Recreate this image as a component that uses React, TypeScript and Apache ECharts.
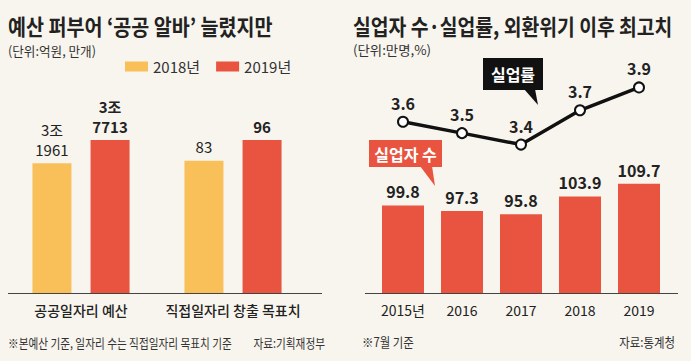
import React, { useEffect, useRef } from 'react';
import * as echarts from 'echarts';

const budgetCategory = ['공공일자리 예산'];
const jobsCategory = ['직접일자리 창출 목표치'];
const legendNames = ['2018년', '2019년'];
const budgetValues = [31961, 37713]; // 억원 (2018, 2019)
const jobsValues = [83, 96]; // 만개 (2018, 2019)
const years = ['2015년', '2016', '2017', '2018', '2019'];
const unemployedValues = [99.8, 97.3, 95.8, 103.9, 109.7];
const rateValues = [3.6, 3.5, 3.4, 3.7, 3.9];

const YELLOW = '#f9c05a';
const RED = '#e8543f';
const INK = '#222';
const KR = '"Noto Sans CJK KR", "Noto Sans", sans-serif';

const fmtBudget = (p: any) => {
  const v = p.value as number;
  return `${Math.floor(v / 10000)}조\n${v % 10000}`;
};

const txt = (text: string, x: number, y: number, size: number, opts: any = {}) => ({
  type: 'text',
  x,
  y,
  scaleX: opts.scaleX ?? 1,
  style: {
    text,
    fill: opts.fill ?? INK,
    fontSize: size,
    fontWeight: opts.weight ?? 'normal',
    fontFamily: KR,
    align: opts.align ?? 'left',
    verticalAlign: 'middle',
  },
  z: 10,
});

export default function App() {
  const ref = useRef<HTMLDivElement>(null);
  useEffect(() => {
    if (!ref.current) return;
    const chart = echarts.init(ref.current, undefined, { renderer: 'svg' });
    const hiddenAxis = {
      axisLine: { show: false },
      axisTick: { show: false },
      splitLine: { show: false },
      axisLabel: { show: false },
    };
    const catLabel = (size: number, weight: any) => ({
      fontSize: size,
      color: INK,
      fontFamily: KR,
      fontWeight: weight,
      margin: 10,
    });
    const option: any = {
      animation: false,
      backgroundColor: '#f8f5ee',
      legend: {
        data: legendNames,
        left: 125,
        top: 59,
        padding: 0,
        itemWidth: 23,
        itemHeight: 10,
        itemGap: 16,
        icon: 'rect',
        selectedMode: false,
        textStyle: { fontSize: 15, color: '#333', fontFamily: KR },
      },
      grid: [
        { left: 8, width: 146, top: 140, height: 153 },
        { left: 160, width: 146, top: 140, height: 153 },
        { left: 373.5, width: 295, top: 139, height: 154 },
        { left: 373.5, width: 295, top: 76, height: 80 },
      ],
      xAxis: [
        { type: 'category', gridIndex: 0, data: budgetCategory, axisLine: { show: false }, axisTick: { show: false }, axisLabel: catLabel(14, 500) },
        { type: 'category', gridIndex: 1, data: jobsCategory, axisLine: { show: false }, axisTick: { show: false }, axisLabel: catLabel(14, 500) },
        { type: 'category', gridIndex: 2, data: years, axisLine: { show: false }, axisTick: { show: false }, axisLabel: catLabel(14, 'normal') },
        { type: 'category', gridIndex: 3, data: years, ...hiddenAxis },
      ],
      yAxis: [
        { type: 'value', gridIndex: 0, min: 0, max: 'dataMax', ...hiddenAxis },
        { type: 'value', gridIndex: 1, min: 0, max: 'dataMax', ...hiddenAxis },
        { type: 'value', gridIndex: 2, min: 60, max: 130, ...hiddenAxis },
        { type: 'value', gridIndex: 3, min: 3.3, max: 4.0, ...hiddenAxis },
      ],
      series: [
        {
          type: 'bar', name: legendNames[0], xAxisIndex: 0, yAxisIndex: 0,
          data: [budgetValues[0]], barWidth: 39, barGap: '49%',
          itemStyle: { color: YELLOW },
          label: { show: true, position: 'top', distance: 4, formatter: fmtBudget, fontSize: 15, lineHeight: 20, color: INK, fontFamily: KR },
        },
        {
          type: 'bar', name: legendNames[1], xAxisIndex: 0, yAxisIndex: 0,
          data: [budgetValues[1]], barWidth: 39, barGap: '49%',
          itemStyle: { color: RED },
          label: { show: true, position: 'top', distance: 4, formatter: fmtBudget, fontSize: 15, lineHeight: 20, fontWeight: 'bold', color: INK, fontFamily: KR },
        },
        {
          type: 'bar', name: legendNames[0], xAxisIndex: 1, yAxisIndex: 1,
          data: [jobsValues[0]], barWidth: 39, barGap: '49%',
          itemStyle: { color: YELLOW },
          label: { show: true, position: 'top', distance: 4, fontSize: 15, lineHeight: 20, color: INK, fontFamily: KR },
        },
        {
          type: 'bar', name: legendNames[1], xAxisIndex: 1, yAxisIndex: 1,
          data: [jobsValues[1]], barWidth: 39, barGap: '49%',
          itemStyle: { color: RED },
          label: { show: true, position: 'top', distance: 4, fontSize: 15, lineHeight: 20, fontWeight: 'bold', color: INK, fontFamily: KR },
        },
        {
          type: 'bar', name: '실업자 수', xAxisIndex: 2, yAxisIndex: 2,
          data: unemployedValues, barWidth: 42,
          itemStyle: { color: RED },
          label: { show: true, position: 'top', distance: 6, fontSize: 16, fontWeight: 'bold', color: INK, fontFamily: KR },
        },
        {
          type: 'line', name: '실업률', xAxisIndex: 3, yAxisIndex: 3,
          data: rateValues, symbol: 'circle', symbolSize: 10,
          lineStyle: { color: '#111', width: 3.5 },
          itemStyle: { color: '#fff', borderColor: '#111', borderWidth: 2 },
          label: { show: true, position: 'top', distance: 5, fontSize: 16, fontWeight: 'bold', color: INK, fontFamily: KR },
          z: 5,
        },
      ],
      graphic: [
        txt("예산 퍼부어 ‘공공 알바’ 늘렸지만", 8, 25, 22, { weight: 'bold', scaleX: 0.89 }),
        txt('(단위:억원, 만개)', 8, 50, 13, { scaleX: 0.97, fill: '#333' }),
        txt('실업자 수·실업률, 외환위기 이후 최고치', 353, 25, 22, { weight: 'bold', scaleX: 0.878 }),
        txt('(단위:만명,%)', 353, 50, 13, { scaleX: 1.03, fill: '#333' }),
        txt('※본예산 기준, 일자리 수는 직접일자리 목표치 기준', 8, 342, 13, { scaleX: 0.82, fill: '#333' }),
        txt('자료:기획재정부', 325, 342, 13, { scaleX: 0.82, fill: '#333', align: 'right' }),
        txt('※7월 기준', 362, 342, 13, { scaleX: 0.88, fill: '#333' }),
        txt('자료:통계청', 675, 342, 13, { scaleX: 0.88, fill: '#333', align: 'right' }),
        { type: 'line', shape: { x1: 8, y1: 293.5, x2: 322, y2: 293.5 }, style: { stroke: '#444', lineWidth: 1 }, z: 10 },
        { type: 'line', shape: { x1: 365, y1: 293.5, x2: 678, y2: 293.5 }, style: { stroke: '#444', lineWidth: 1 }, z: 10 },
        { type: 'rect', shape: { x: 483, y: 58, width: 60, height: 32 }, style: { fill: '#111' }, z: 10 },
        { type: 'polygon', shape: { points: [[524, 89], [535, 89], [538, 105]] }, style: { fill: '#111' }, z: 10 },
        txt('실업률', 513, 74, 16, { weight: 'bold', fill: '#fff', align: 'center' }),
        { type: 'rect', shape: { x: 369, y: 140, width: 73, height: 27 }, style: { fill: RED }, z: 10 },
        { type: 'polygon', shape: { points: [[420, 166], [432, 166], [435, 186]] }, style: { fill: RED }, z: 10 },
        txt('실업자 수', 405.5, 153.5, 16, { weight: 'bold', fill: '#fff', align: 'center' }),
      ],
    };
    chart.setOption(option);
    return () => chart.dispose();
  }, []);
  return (
    <div
      ref={ref}
      style={{ position: 'fixed', left: 0, top: 0, width: 691, height: 361 }}
    />
  );
}
